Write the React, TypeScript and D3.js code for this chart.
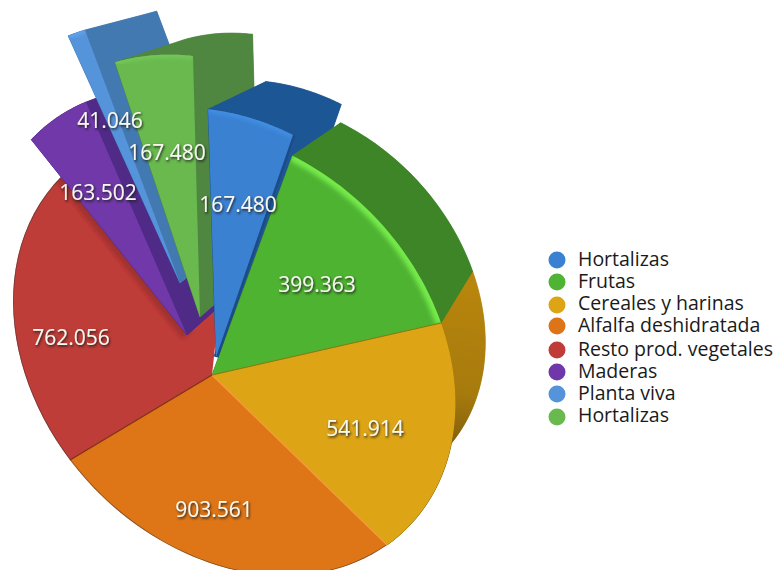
import React from "react";
import * as d3 from "d3";

const categories = ["Hortalizas", "Frutas", "Cereales y harinas", "Alfalfa deshidratada", "Resto prod. vegetales", "Maderas", "Planta viva", "Hortalizas"];
const values = [167480, 399363, 541914, 903561, 762056, 163502, 41046, 167480];
const faceColors = ["#3a81d2", "#4fb333", "#dda515", "#de7418", "#bf3c39", "#6f37a9", "#5593da", "#69b94f"];
const wallColors = ["#1f5795", "#3c8528", "#a87a0e", "#a85a10", "#8f2c2a", "#4f2a86", "#4279b0", "#4f8740"];
const rimColors = ["#4390e4", "#74ea4a", "", "", "", "", "#62a4ec", "#74c858"];

// layout of the drawing
const center: [number, number] = [212, 375];
const vanish: [number, number] = [720, -136];
const depth = 0.113;
const legendCircleY = [260, 282, 305, 326, 350, 372, 394, 417];
const legendTextY = [266, 288, 310, 332, 356, 378, 400, 422];
const labelPos: [number, number][] = [[238, 204], [317, 284], [365, 428], [214, 509], [71, 337], [98, 192], [110, 120], [167, 152]];
// index of the slice -> pulled-out rim anchor and own apex
const pulled: Record<number, { anchor: [number, number]; apex: [number, number] }> = {
  0: { anchor: [293, 135], apex: [216, 357] },
  5: { anchor: [86, 102], apex: [187, 335] },
  6: { anchor: [85, 30], apex: [180, 283] },
  7: { anchor: [193, 56], apex: [200, 317] },
};

const pieAngles = d3.pie<number>().sort(null).value((d) => d)(values);

// rim of the disc in picture space: projective map fitted on four rim points
function solve(A: number[][], b: number[]) {
  const n = b.length;
  const M = A.map((r, i) => [...r, b[i]]);
  for (let i = 0; i < n; i++) {
    let p = i;
    for (let j = i + 1; j < n; j++) if (Math.abs(M[j][i]) > Math.abs(M[p][i])) p = j;
    [M[i], M[p]] = [M[p], M[i]];
    for (let j = 0; j < n; j++) {
      if (j === i) continue;
      const f = M[j][i] / M[i][i];
      for (let k = i; k <= n; k++) M[j][k] -= f * M[i][k];
    }
  }
  return M.map((r, i) => r[n] / r[i]);
}
const rimTargets: [number, number][] = [[441, 323], [387, 545], [70, 460], [58, 180]];
const rimAngles = [pieAngles[1].endAngle, pieAngles[2].endAngle, pieAngles[3].endAngle, pieAngles[4].endAngle];
const unit = (a: number): [number, number] => [Math.sin(a), -Math.cos(a)];
const hRows: number[][] = [];
const hRhs: number[] = [];
rimAngles.forEach((a, i) => {
  const [u, v] = unit(a);
  const [x, y] = rimTargets[i];
  hRows.push([u, v, 1, 0, 0, 0, -u * x, -v * x]);
  hRhs.push(x);
  hRows.push([0, 0, 0, u, v, 1, -u * y, -v * y]);
  hRhs.push(y);
});
const h = solve(hRows, hRhs);
const rim = (a: number): [number, number] => {
  const [u, v] = unit(a);
  const w = h[6] * u + h[7] * v + 1;
  return [(h[0] * u + h[1] * v + h[2]) / w, (h[3] * u + h[4] * v + h[5]) / w];
};
const push = (p: [number, number]): [number, number] => [p[0] + depth * (vanish[0] - p[0]), p[1] + depth * (vanish[1] - p[1])];

const line = d3.line<[number, number]>().x((d) => d[0]).y((d) => d[1]);
const closed = (pts: [number, number][]) => line(pts) + "Z";

function geometry(i: number) {
  const a0 = pieAngles[i].startAngle;
  const a1 = pieAngles[i].endAngle;
  const cfg = pulled[i];
  const base = rim(a1);
  const sx = cfg ? cfg.anchor[0] - base[0] : 0;
  const sy = cfg ? cfg.anchor[1] - base[1] : 0;
  const end = i === 4 ? 2 * Math.PI + 0.12 : a1; // the red slice runs on beneath the pulled-out ones
  const rimPts = d3.range(0, 41).map((k) => {
    const p = rim(a0 + ((end - a0) * k) / 40);
    return [p[0] + sx, p[1] + sy] as [number, number];
  });
  const apex = cfg ? cfg.apex : center;
  const last = rimPts[rimPts.length - 1];
  const pushed = rimPts.map(push);
  return {
    apex,
    rimPts,
    face: closed([apex, ...rimPts]),
    walls: [
      closed([apex, ...rimPts]),
      closed([push(apex), ...pushed]),
      closed([...rimPts, ...[...pushed].reverse()]),
      closed([apex, rimPts[0], pushed[0], push(apex)]),
      closed([apex, last, pushed[pushed.length - 1], push(apex)]),
    ],
    rimLine: line(rimPts) as string,
  };
}
const geo = values.map((_, i) => geometry(i));

const fmt = d3.formatLocale({ decimal: ",", thousands: ".", grouping: [3], currency: ["", ""] }).format(",");

function Wall({ i }: { i: number }) {
  const fill = i === 2 ? "url(#cerealWall)" : wallColors[i];
  return (
    <g>
      {geo[i].walls.map((d, k) => (
        <path key={k} d={d} fill={fill} stroke={fill} strokeWidth={0.4} />
      ))}
    </g>
  );
}
function Face({ i, children }: { i: number; children?: React.ReactNode }) {
  return (
    <g>
      <path d={geo[i].face} fill={faceColors[i]} />
      <clipPath id={`clip${i}`}>
        <path d={geo[i].face} />
      </clipPath>
      <g clipPath={`url(#clip${i})`}>
        {rimColors[i] && <path d={geo[i].rimLine} fill="none" stroke={rimColors[i]} strokeWidth={i === 1 ? 11 : 6} filter="url(#soft)" />}
        {(i === 3 || i === 4) && <path d={geo[i].rimLine} fill="none" stroke="#333" strokeOpacity={0.55} strokeWidth={1.6} />}
        {children}
      </g>
    </g>
  );
}
const edge = (i: number, atEnd: boolean) => {
  const g = geo[i];
  return line([g.apex, atEnd ? g.rimPts[g.rimPts.length - 1] : g.rimPts[0]]) as string;
};

export default function App() {
  return (
    <svg width={775} height={570} style={{ position: "absolute", left: 0, top: 0, display: "block", background: "#fff" }}>
      <defs>
        <linearGradient id="cerealWall" gradientUnits="userSpaceOnUse" x1="470" y1="280" x2="450" y2="470">
          <stop offset="0" stopColor="#b9860f" />
          <stop offset="0.6" stopColor="#a67a0c" />
          <stop offset="1" stopColor="#6f5208" />
        </linearGradient>
        <filter id="soft" x="-20%" y="-20%" width="140%" height="140%">
          <feGaussianBlur stdDeviation="2.2" />
        </filter>
        <filter id="all" x="-5%" y="-5%" width="110%" height="110%">
          <feGaussianBlur stdDeviation="0.5" />
        </filter>
        <filter id="textShadow" x="-20%" y="-30%" width="140%" height="170%">
          <feDropShadow dx="1" dy="1.5" stdDeviation="0.8" floodColor="#1a1a1a" floodOpacity="0.95" />
        </filter>
      </defs>
      <g filter="url(#all)">
        <Face i={4}>
          <path d={edge(5, false)} stroke="#7a2220" strokeOpacity={0.45} strokeWidth={12} fill="none" filter="url(#soft)" />
        </Face>
        <Face i={3} />
        <Wall i={5} />
        <Face i={5}>
          <path d={edge(6, false)} stroke="#2e1560" strokeOpacity={0.55} strokeWidth={12} fill="none" filter="url(#soft)" />
        </Face>
        <Wall i={6} />
        <Face i={6} />
        <Wall i={7} />
        <Face i={7} />
        <Wall i={0} />
        <Wall i={2} />
        <Wall i={1} />
        <Face i={2} />
        <Face i={1} />
        <path d={edge(0, true)} stroke="#1d4c88" strokeWidth={5} fill="none" />
        <Face i={0} />
        <path d={line([center, geo[3].rimPts[0]]) as string} stroke="#f59a3a" strokeWidth={1.5} fill="none" />
        <path d={line([center, geo[4].rimPts[0]]) as string} stroke="#7d3118" strokeWidth={1.4} fill="none" />
        <path d={line([center, geo[2].rimPts[0]]) as string} stroke="#8c7a10" strokeWidth={1.2} fill="none" />
      </g>
      <g fontFamily="'Open Sans', sans-serif" fontSize={21} fill="#f8f8f2" textAnchor="middle" filter="url(#textShadow)">
        {values.map((v, i) => (
          <text key={i} x={labelPos[i][0]} y={labelPos[i][1] + 7.5}>{fmt(v)}</text>
        ))}
      </g>
      <g fontFamily="'Open Sans', sans-serif" fontSize={19.5} fill="#1a1a1a">
        {categories.map((c, i) => (
          <g key={i}>
            <circle cx={557} cy={legendCircleY[i]} r={8.5} fill={faceColors[i]} />
            <text x={578} y={legendTextY[i]}>{c}</text>
          </g>
        ))}
      </g>
    </svg>
  );
}
